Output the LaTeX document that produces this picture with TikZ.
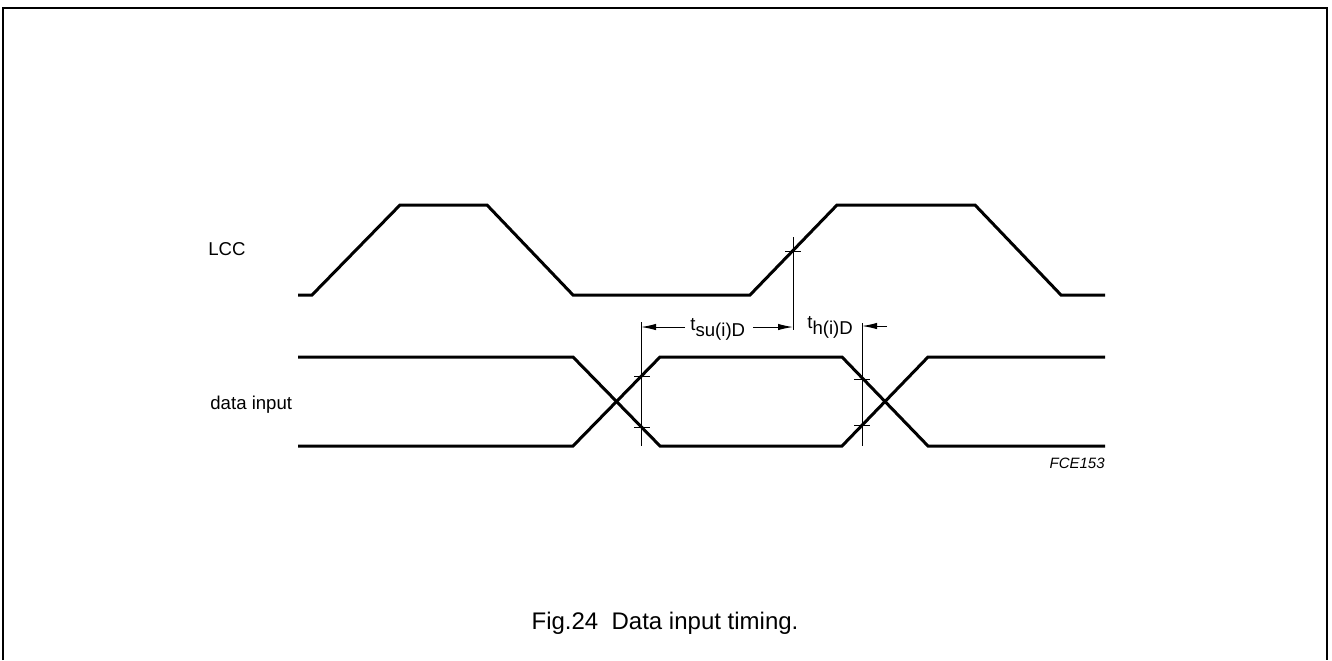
\documentclass[tikz,border=0pt]{standalone}
\usepackage{fontspec}
\setmainfont{Liberation Sans}
\usetikzlibrary{arrows.meta}

\begin{document}
\begin{tikzpicture}[x=0.5pt,y=-0.5pt,
    wave/.style={line width=1.5pt,line join=miter},
    guide/.style={line width=0.5pt},
    dimarrow/.style={line width=0.5pt,-{Latex[length=7.5pt,width=3.2pt]}},
    lbl/.style={font=\fontsize{9.3}{11}\selectfont,inner sep=0pt}]
    \useasboundingbox (0,0) rectangle (1332,660);
    %Frame
    \draw[line width=1pt] (3,660) -- (3,8) -- (1327,8) -- (1327,660);

    %LCC
    \node[lbl,anchor=base west] (lcc) at (208,255) {LCC};
    \draw[wave] (298,295) -- (312,295) -- (400,205) -- (487,205) -- (573,295) -- (750,295)
        -- (837,205) -- (975,205) -- (1061,295) -- (1105,295);

    %data input
    \node[lbl,anchor=base west] (din) at (210,409) {data input};
    \draw[wave] (298,357) -- (573,357) -- (660,446) -- (842,446) -- (928,357) -- (1105,357);
    \draw[wave] (298,446) -- (573,446) -- (660,357) -- (842,357) -- (928,446) -- (1105,446);

    %guide lines and ticks
    \coordinate (su) at (641,327);
    \coordinate (ck) at (793,327);
    \coordinate (ho) at (862,326);
    \draw[guide] (641,322) -- (641,446);
    \draw[guide] (793,237) -- (793,330);
    \draw[guide] (862,323) -- (862,446);
    \draw[guide] (634,376) -- (650,376);
    \draw[guide] (634,427) -- (650,427);
    \draw[guide] (785,251) -- (801,251);
    \draw[guide] (854,379) -- (870,379);
    \draw[guide] (854,425) -- (870,425);

    %t_su and t_h
    \node[lbl,anchor=base west] (tsu) at (690,330) {t\raisebox{-3.3pt}{su(i)D}};
    \node[lbl,anchor=base west] (th) at (807,328) {t\raisebox{-3pt}{h(i)D}};
    \coordinate (suA) at (685,327);
    \coordinate (suB) at (753,327);
    \coordinate (hoA) at (887,326);
    \draw[dimarrow] (suA) -- (su);
    \draw[dimarrow] (suB) -- (ck);
    \draw[dimarrow] (hoA) -- (ho);

    \node[font=\fontsize{7.5}{9}\selectfont\itshape,inner sep=0pt,anchor=base east] (code) at (1105,468) {FCE153};
    \node[font=\fontsize{12}{14}\selectfont,inner sep=0pt,anchor=base] (cap) at (665,629) {Fig.24\ \ Data input timing.};
\end{tikzpicture}
\end{document}
